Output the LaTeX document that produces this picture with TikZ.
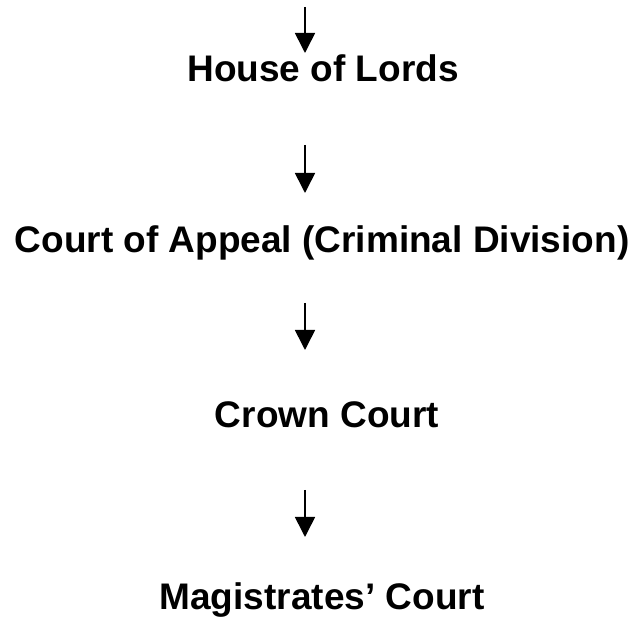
\documentclass[tikz,border=0pt]{standalone}
\usepackage{fontspec}
\setmainfont{Liberation Sans}
\usetikzlibrary{arrows.meta}
\begin{document}
\begin{tikzpicture}[x=1pt,y=1pt,
  court/.style={anchor=base,inner sep=0pt,font=\fontsize{37}{40}\selectfont\bfseries},
  downarrow/.style={line width=1.6pt,-{Triangle[width=20pt,length=20pt]}}]
\useasboundingbox (0,0) rectangle (635,-617);
\node[court] (hl) at (323,-82) {House of Lords};
\node[court] (ca) at (322,-253) {Court of Appeal (Criminal Division)};
\node[court] (cc) at (327,-428) {Crown Court};
\node[court] (mc) at (322,-609) {Magistrates’ Court};
\coordinate (a1s) at (305,-7);
\coordinate (a1e) at (305,-53);
\coordinate (a2s) at (305,-145);
\coordinate (a2e) at (305,-193);
\coordinate (a3s) at (305,-303);
\coordinate (a3e) at (305,-350);
\coordinate (a4s) at (305,-490);
\coordinate (a4e) at (305,-537);
\draw[downarrow] (a1s) -- (a1e);
\draw[downarrow] (a2s) -- (a2e);
\draw[downarrow] (a3s) -- (a3e);
\draw[downarrow] (a4s) -- (a4e);
\end{tikzpicture}
\end{document}
